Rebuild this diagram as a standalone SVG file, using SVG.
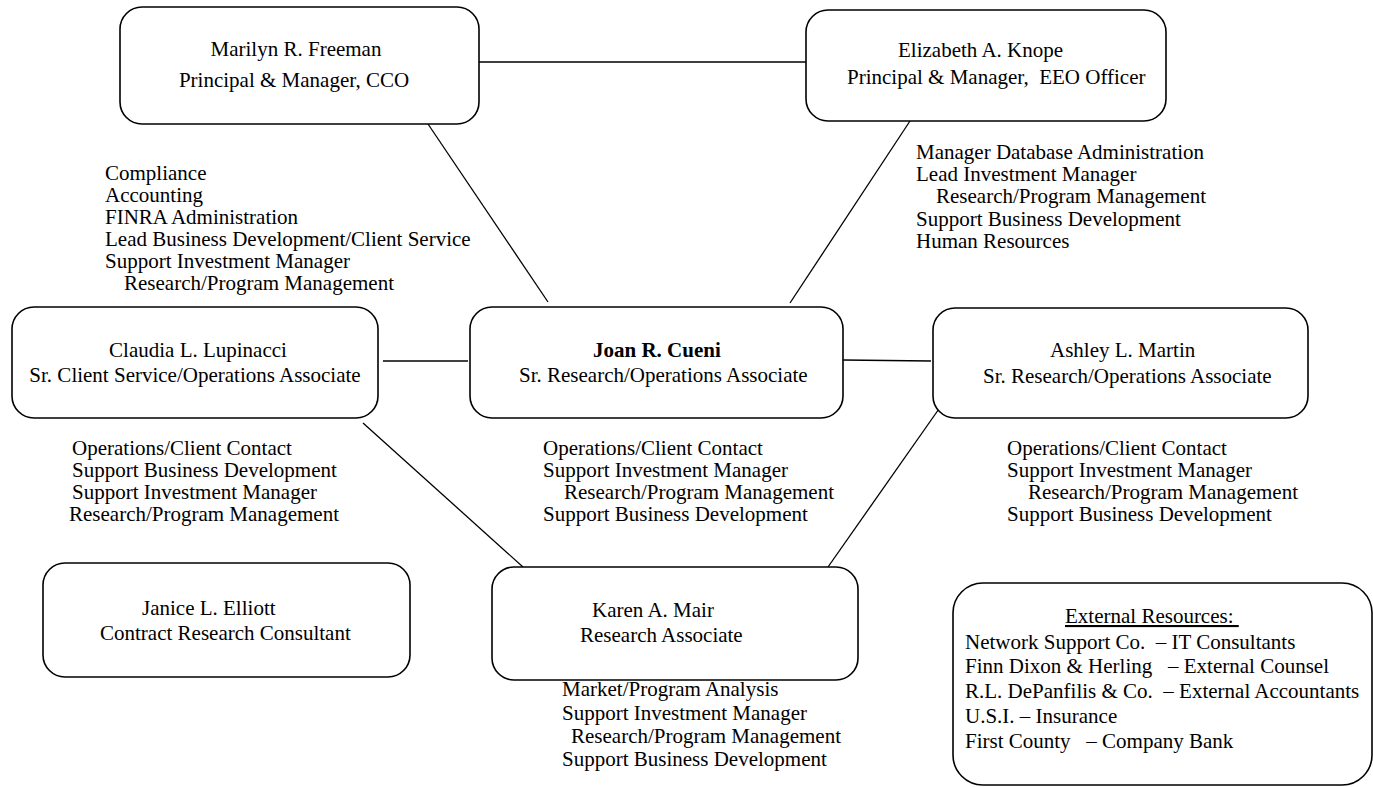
<svg xmlns="http://www.w3.org/2000/svg" width="1373" height="787" viewBox="0 0 1373 787">
<style>
.box{fill:#fff;stroke:#000;stroke-width:1.6}
.ln{stroke:#000;stroke-width:1.3;fill:none}
text{font-family:"Liberation Serif","Times New Roman",serif;font-size:21px;fill:#000}
.b{font-weight:bold}
</style>
<rect width="1373" height="787" fill="#fff"/>
<g id="connectors">
<line class="ln" x1="479" y1="62" x2="806" y2="62"/>
<line class="ln" x1="428" y1="124" x2="548" y2="302"/>
<line class="ln" x1="910" y1="121" x2="790" y2="303"/>
<line class="ln" x1="383" y1="361" x2="468" y2="361"/>
<line class="ln" x1="843" y1="360" x2="931" y2="361"/>
<line class="ln" x1="363" y1="423" x2="523" y2="567"/>
<line class="ln" x1="941" y1="406" x2="828" y2="567"/>
</g>
<g id="marilyn">
<rect class="box" x="120" y="7" width="359" height="117" rx="22"/>
<text x="296" y="56" text-anchor="middle">Marilyn R. Freeman</text>
<text x="294" y="87" text-anchor="middle">Principal &amp; Manager, CCO</text>
<text x="105" y="180">Compliance</text>
<text x="105" y="202">Accounting</text>
<text x="105" y="224">FINRA Administration</text>
<text x="105" y="246">Lead Business Development/Client Service</text>
<text x="105" y="268">Support Investment Manager</text>
<text x="124" y="290">Research/Program Management</text>
</g>
<g id="elizabeth">
<rect class="box" x="806" y="10" width="360" height="111" rx="22"/>
<text x="898" y="57">Elizabeth A. Knope</text>
<text x="847" y="84" xml:space="preserve">Principal &amp; Manager,  EEO Officer</text>
<text x="916" y="159">Manager Database Administration</text>
<text x="916" y="181">Lead Investment Manager</text>
<text x="936" y="203">Research/Program Management</text>
<text x="916" y="226">Support Business Development</text>
<text x="916" y="248">Human Resources</text>
</g>
<g id="claudia">
<rect class="box" x="12" y="307" width="366" height="111" rx="22"/>
<text x="198" y="357" text-anchor="middle">Claudia L. Lupinacci</text>
<text x="195" y="382" text-anchor="middle">Sr. Client Service/Operations Associate</text>
<text x="72" y="455">Operations/Client Contact</text>
<text x="72" y="477">Support Business Development</text>
<text x="72" y="499">Support Investment Manager</text>
<text x="69" y="521">Research/Program Management</text>
</g>
<g id="joan">
<rect class="box" x="470" y="307" width="373" height="111" rx="22"/>
<text class="b" x="593" y="357">Joan R. Cueni</text>
<text x="519" y="382">Sr. Research/Operations Associate</text>
<text x="543" y="455">Operations/Client Contact</text>
<text x="543" y="477">Support Investment Manager</text>
<text x="564" y="499">Research/Program Management</text>
<text x="543" y="521">Support Business Development</text>
</g>
<g id="ashley">
<rect class="box" x="933" y="308" width="375" height="110" rx="22"/>
<text x="1050" y="357">Ashley L. Martin</text>
<text x="983" y="383">Sr. Research/Operations Associate</text>
<text x="1007" y="455">Operations/Client Contact</text>
<text x="1007" y="477">Support Investment Manager</text>
<text x="1028" y="499">Research/Program Management</text>
<text x="1007" y="521">Support Business Development</text>
</g>
<g id="janice">
<rect class="box" x="43" y="563" width="367" height="114" rx="22"/>
<text x="142" y="615">Janice L. Elliott</text>
<text x="100" y="640">Contract Research Consultant</text>
</g>
<g id="karen">
<rect class="box" x="492" y="567" width="366" height="113" rx="22"/>
<text x="592" y="617">Karen A. Mair</text>
<text x="580" y="642">Research Associate</text>
<text x="562" y="696">Market/Program Analysis</text>
<text x="562" y="720">Support Investment Manager</text>
<text x="571" y="743">Research/Program Management</text>
<text x="562" y="766">Support Business Development</text>
</g>
<g id="external">
<rect class="box" x="953" y="583" width="419" height="202" rx="30"/>
<text x="1065" y="623" text-decoration="underline" xml:space="preserve">External Resources: </text>
<text x="965" y="649" xml:space="preserve">Network Support Co.  – IT Consultants</text>
<text x="965" y="673" xml:space="preserve">Finn Dixon &amp; Herling   – External Counsel</text>
<text x="965" y="698" xml:space="preserve">R.L. DePanfilis &amp; Co.  – External Accountants</text>
<text x="965" y="723" xml:space="preserve">U.S.I. – Insurance</text>
<text x="965" y="748" xml:space="preserve">First County   – Company Bank</text>
</g>
</svg>
